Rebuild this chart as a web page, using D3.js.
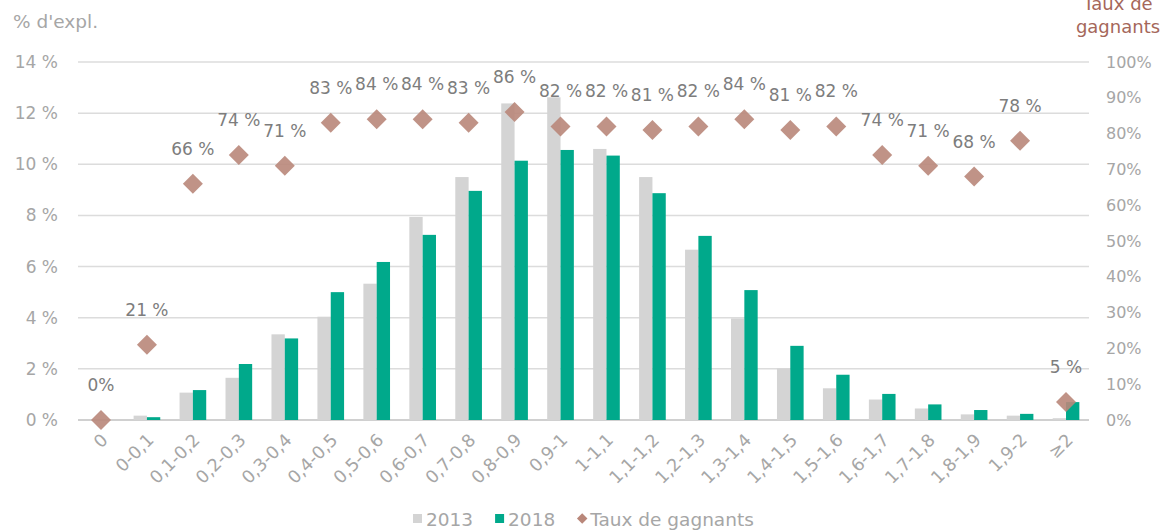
<!DOCTYPE html>
<html>
<head>
<meta charset="utf-8">
<script src="https://cdn.jsdelivr.net/npm/d3@7"></script>
<style>
  body { margin: 0; background: #fff; }
  text { font-family: "DejaVu Sans", sans-serif; }
</style>
</head>
<body>
<script>
// categories (ratio intervals)
var categories = ['0', '0-0,1', '0,1-0,2', '0,2-0,3', '0,3-0,4', '0,4-0,5', '0,5-0,6',
    '0,6-0,7', '0,7-0,8', '0,8-0,9', '0,9-1', '1-1,1', '1,1-1,2', '1,2-1,3', '1,3-1,4',
    '1,4-1,5', '1,5-1,6', '1,6-1,7', '1,7-1,8', '1,8-1,9', '1,9-2', '\u22652'];

// % d'exploitations
var values2013 = [0, 0.17, 1.07, 1.65, 3.35, 4.04, 5.33, 7.94, 9.5, 12.38, 12.62,
    10.6, 9.5, 6.66, 3.97, 2.02, 1.24, 0.8, 0.45, 0.22, 0.17, 0.07];
var values2018 = [0, 0.11, 1.17, 2.19, 3.19, 5.0, 6.18, 7.24, 8.96, 10.14, 10.56,
    10.34, 8.87, 7.2, 5.08, 2.9, 1.77, 1.02, 0.61, 0.39, 0.24, 0.7];

// taux de gagnants (%)
var tauxGagnants = [0, 21, 66, 74, 71, 83, 84, 84, 83, 86, 82, 82, 81, 82, 84, 81,
    82, 74, 71, 68, 78, 5];

var leftTicks = [0, 2, 4, 6, 8, 10, 12, 14];
var rightTicks = [0, 10, 20, 30, 40, 50, 60, 70, 80, 90, 100];
var seriesNames = ['2013', '2018', 'Taux de gagnants'];

var W = 1163, H = 531;
var plotLeft = 78, plotRight = 1089, plotTop = 62, plotBottom = 420;
var grayColor = '#d4d4d4';
var greenColor = '#00a98b';
var diamondColor = '#b9877a';
var labelColor = '#a6a6a6';

var svg = d3.select('body').append('svg')
    .attr('width', W)
    .attr('height', H);

var x = d3.scaleBand().domain(categories).range([plotLeft, plotRight])
    .paddingInner(0.42).paddingOuter(0.21);
var xSub = d3.scaleBand().domain(['2013', '2018']).range([0, x.bandwidth()]);
var yL = d3.scaleLinear().domain([0, 14]).range([plotBottom, plotTop]);
var yR = d3.scaleLinear().domain([0, 100]).range([plotBottom, plotTop]);

drawGrid();
drawAxes();
drawBars();
drawDiamonds();
drawTitles();
drawLegend();

function drawGrid() {
    svg.append('g').selectAll('line')
        .data(leftTicks)
        .enter().append('line')
        .attr('x1', plotLeft)
        .attr('x2', plotRight)
        .attr('y1', function (d) { return yL(d); })
        .attr('y2', function (d) { return yL(d); })
        .attr('stroke', function (d) { return d === 0 ? '#d0d0d0' : '#dcdcdc'; })
        .attr('stroke-width', function (d) { return d === 0 ? 2 : 1.5; });
}

function drawAxes() {
    var gl = svg.append('g')
        .attr('transform', 'translate(' + (plotLeft - 17) + ',0)')
        .call(d3.axisLeft(yL).tickValues(leftTicks).tickSize(0)
            .tickFormat(function (d) { return d + ' %'; }));
    gl.select('.domain').remove();
    gl.selectAll('text')
        .attr('fill', labelColor)
        .style('font-size', '17px')
        .style('font-family', '"DejaVu Sans", sans-serif');

    var gr = svg.append('g')
        .attr('transform', 'translate(' + (plotRight + 17) + ',0)')
        .call(d3.axisRight(yR).tickValues(rightTicks).tickSize(0)
            .tickFormat(function (d) { return d + '%'; }));
    gr.select('.domain').remove();
    gr.selectAll('text')
        .attr('fill', labelColor)
        .attr('x', 0)
        .style('font-size', '16px')
        .style('font-family', '"DejaVu Sans", sans-serif');

    var gx = svg.append('g')
        .attr('transform', 'translate(0,' + plotBottom + ')')
        .call(d3.axisBottom(x).tickSize(0));
    gx.select('.domain').remove();
    gx.selectAll('text')
        .attr('fill', labelColor)
        .style('font-size', '17.5px')
        .style('font-family', '"DejaVu Sans", sans-serif')
        .style('text-anchor', 'end')
        .attr('y', 0)
        .attr('dy', 0)
        .attr('transform', 'translate(8,21) rotate(-45)');
}

function drawBars() {
    var groups = svg.append('g').selectAll('g')
        .data(categories)
        .enter().append('g')
        .attr('transform', function (d) { return 'translate(' + x(d) + ',0)'; });

    groups.append('rect')
        .attr('x', xSub('2013'))
        .attr('width', xSub.bandwidth())
        .attr('y', function (d, i) { return yL(values2013[i]); })
        .attr('height', function (d, i) { return plotBottom - yL(values2013[i]); })
        .attr('fill', grayColor);

    groups.append('rect')
        .attr('x', xSub('2018'))
        .attr('width', xSub.bandwidth())
        .attr('y', function (d, i) { return yL(values2018[i]); })
        .attr('height', function (d, i) { return plotBottom - yL(values2018[i]); })
        .attr('fill', greenColor);
}

function drawDiamonds() {
    var diamond = d3.symbol().type(d3.symbolSquare).size(200);
    var cx = function (i) { return x(categories[i]) + x.bandwidth() / 2; };

    svg.append('g').selectAll('path')
        .data(tauxGagnants)
        .enter().append('path')
        .attr('d', diamond)
        .attr('transform', function (d, i) {
            return 'translate(' + cx(i) + ',' + yR(d) + ') rotate(45)';
        })
        .attr('fill', diamondColor)
        .attr('fill-opacity', 0.9);

    svg.append('g').selectAll('text')
        .data(tauxGagnants)
        .enter().append('text')
        .attr('x', function (d, i) { return cx(i); })
        .attr('y', function (d) { return yR(d) - 29; })
        .attr('text-anchor', 'middle')
        .attr('fill', '#7d7d7d')
        .style('font-size', '17px')
        .text(function (d) { return d === 0 ? '0%' : d + ' %'; });
}

function drawTitles() {
    svg.append('text')
        .attr('x', 13)
        .attr('y', 28)
        .attr('fill', labelColor)
        .style('font-size', '18.5px')
        .text("% d'expl.");

    svg.append('text')
        .attr('x', 1118)
        .attr('y', 10)
        .attr('text-anchor', 'middle')
        .attr('fill', '#a5675a')
        .style('font-size', '18px')
        .text('Taux de');

    svg.append('text')
        .attr('x', 1118)
        .attr('y', 33)
        .attr('text-anchor', 'middle')
        .attr('fill', '#a5675a')
        .style('font-size', '18px')
        .text('gagnants');
}

function drawLegend() {
    var colors = [grayColor, greenColor, diamondColor];
    var g = svg.append('g').attr('transform', 'translate(0,526)');
    var pos = 413;
    seriesNames.forEach(function (name, i) {
        if (i < 2) {
            g.append('rect')
                .attr('x', pos)
                .attr('y', -12)
                .attr('width', 9)
                .attr('height', 9)
                .attr('fill', colors[i]);
        } else {
            g.append('path')
                .attr('d', d3.symbol().type(d3.symbolSquare).size(55))
                .attr('transform', 'translate(' + (pos + 5) + ',-7.5) rotate(45)')
                .attr('fill', colors[i]);
        }
        var t = g.append('text')
            .attr('x', pos + 13)
            .attr('y', 0)
            .attr('fill', labelColor)
            .style('font-size', '18.5px')
            .text(name);
        pos += 13 + t.node().getComputedTextLength() + 22;
    });
}
</script>
</body>
</html>
